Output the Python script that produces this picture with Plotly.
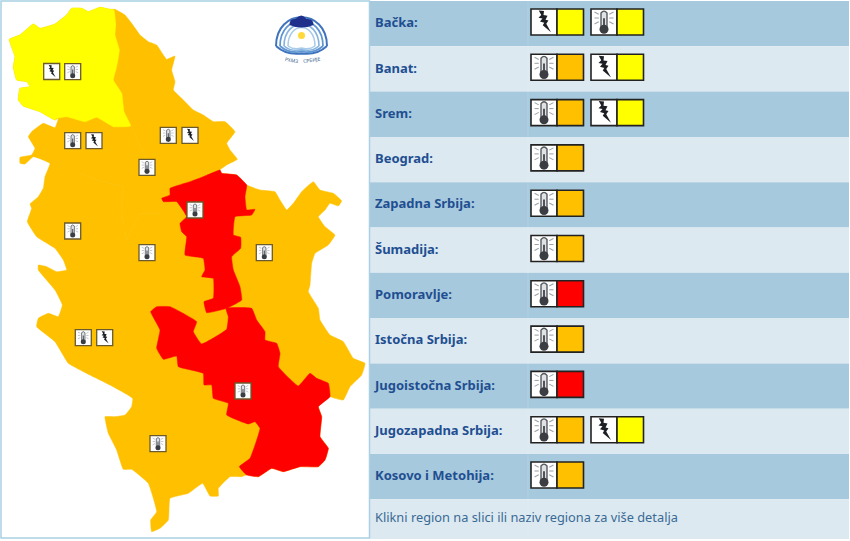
import plotly.graph_objects as go

# table on the right
regions = ["Bačka:", "Banat:", "Srem:", "Beograd:", "Zapadna Srbija:", "Šumadija:", "Pomoravlje:",
           "Istočna Srbija:", "Jugoistočna Srbija:", "Jugozapadna Srbija:", "Kosovo i Metohija:"]
first_icon = ["bolt", "temp", "temp", "temp", "temp", "temp", "temp", "temp", "temp", "temp", "temp"]
first_level = ["yellow", "orange", "orange", "orange", "orange", "orange", "red", "orange", "red", "orange", "orange"]
second_icon = ["temp", "bolt", "bolt", None, None, None, None, None, None, "bolt", None]
second_level = ["yellow", "yellow", "yellow", None, None, None, None, None, None, "yellow", None]
footer = "Klikni region na slici ili naziv regiona za više detalja"

colors = {"yellow": "#ffff00", "orange": "#ffc000", "red": "#ff0000"}

# map outlines, traced at 3x off the picture (x, y)
serbia_outline = [(28,118),(60,105),(100,72),(120,85),(165,72),(200,45),(215,25),(245,25),(265,35),(300,22),(330,28),
    (345,28),(375,45),(395,70),(420,105),(445,125),(470,135),(490,165),(500,178),(525,168),(515,210),(525,245),(520,270),
    (545,295),(580,330),(610,345),(640,365),(675,365),(705,395),(680,430),(690,450),(712,478),(680,495),(660,510),
    (665,520),(710,525),(740,555),(780,570),(825,575),(840,600),(860,630),(880,610),(905,575),(940,545),(960,570),
    (1000,580),(1025,603),(1015,618),(990,610),(975,630),(955,650),(975,680),(1005,705),(985,735),(945,760),(935,790),
    (930,855),(925,875),(955,925),(960,960),(990,1005),(1030,1025),(1060,1075),(1095,1090),(1085,1125),(1050,1160),
    (1030,1200),(1005,1195),(990,1190),(955,1220),(965,1250),(960,1310),(985,1345),(975,1380),(955,1400),(900,1400),
    (850,1415),(815,1405),(775,1430),(740,1425),(725,1430),(690,1430),(655,1465),(655,1488),(630,1488),(608,1450),
    (565,1480),(510,1495),(505,1560),(480,1585),(455,1595),(452,1560),(470,1535),(445,1450),(395,1408),(370,1408),
    (350,1350),(325,1300),(315,1250),(345,1250),(375,1245),(395,1220),(398,1195),(330,1155),(250,1115),(205,1090),
    (165,1025),(110,980),(115,955),(145,940),(175,950),(187,915),(165,870),(115,810),(115,795),(140,800),(170,815),
    (200,810),(190,780),(165,745),(110,710),(82,665),(95,625),(90,612),(115,590),(130,565),(135,530),(150,490),
    (100,470),(75,492),(60,490),(60,472),(95,465),(105,445),(85,410),(95,395),(130,370),(165,383),(175,355),(165,360),
    (120,335),(70,318),(55,300),(60,265),(90,260),(80,245),(50,240),(40,200),(45,170)]
backa_outline = [(28,118),(60,105),(100,72),(120,85),(165,72),(200,45),(215,25),(245,25),(265,35),(300,22),(330,28),
    (342,30),(347,75),(345,105),(358,150),(350,200),(340,240),(365,280),(372,335),(392,378),(340,380),(290,352),
    (255,365),(200,350),(170,355),(165,360),(120,335),(70,318),(55,300),(60,265),(90,260),(80,245),(50,240),(40,200),(45,170)]
pomoravlje_outline = [(660,510),(665,520),(710,525),(740,555),(735,590),(740,630),(765,628),(755,645),(705,650),
    (700,705),(722,712),(722,745),(695,770),(700,810),(720,860),(725,900),(680,925),(620,938),(612,905),(640,895),
    (640,835),(605,830),(615,810),(610,775),(555,765),(560,710),(545,695),(540,670),(560,650),(530,605),(490,605),
    (485,595),(510,585),(510,565),(570,545),(610,530)]
jugoistok_outline = [(678,925),(755,925),(770,960),(795,995),(795,1020),(830,1030),(840,1060),(835,1100),(895,1158),
    (930,1120),(950,1135),(985,1150),(990,1190),(955,1220),(965,1250),(960,1310),(985,1345),(975,1380),(955,1400),
    (900,1400),(850,1415),(815,1405),(775,1430),(740,1425),(718,1400),(750,1375),(780,1285),(765,1265),(745,1272),
    (680,1245),(685,1210),(640,1195),(635,1155),(612,1155),(610,1120),(535,1100),(530,1068),(490,1078),(470,1045),
    (480,990),(452,935),(470,920),(510,920),(590,965),(580,995),(605,1032),(680,988),(685,950)]
# faint borders between the orange regions
seam_a = [(392,378),(405,400),(420,440),(440,478)]
seam_b = [(240,520),(290,540),(370,560),(365,640),(380,720),(420,640),(480,640)]

# warning icons on the map: centre x, centre y, kind
map_icons = [(51.7,71.5,"bolt"),(72.7,71.7,"temp"),(72.7,140.7,"temp"),(94,140.7,"bolt"),(168.3,135.3,"temp"),
    (190,135.3,"bolt"),(147,167.3,"temp"),(195,210,"temp"),(72.7,231,"temp"),(147,252.7,"temp"),(264.3,252.7,"temp"),
    (83.3,337.7,"temp"),(104.7,337.7,"bolt"),(243,391,"temp"),(158,443.7,"temp")]

fig = go.Figure()
shapes = []


def rect(x0, y0, x1, y1, fill, line=None, width=0, layer="above"):
    shapes.append(dict(type="rect", x0=x0, y0=y0, x1=x1, y1=y1, fillcolor=fill, layer=layer,
                       line=dict(color=line or fill, width=width)))


def path(d, fill=None, line=None, width=1):
    shapes.append(dict(type="path", path=d, fillcolor=fill or "rgba(0,0,0,0)", layer="above",
                       line=dict(color=line or "rgba(0,0,0,0)", width=width)))


def draw_bolt(cx, cy, r):
    pts = [(-0.42,-0.92),(0.0,-0.88),(-0.04,-0.55),(0.28,-0.5),(0.12,-0.18),(0.36,-0.12),(0.18,0.14),(0.56,0.82),
           (-0.1,0.26),(0.02,0.06),(-0.32,-0.04),(-0.12,-0.28),(-0.44,-0.34),(-0.22,-0.56)]
    d = "M " + " L ".join(f"{cx + x * r:.2f} {cy + y * r:.2f}" for x, y in pts) + " Z"
    path(d, fill="#1c1f24")


def draw_temp(cx, cy, r):
    # tube
    path(f"M {cx - .24*r} {cy + .4*r} L {cx - .24*r} {cy - .72*r} Q {cx} {cy - 1.02*r} {cx + .24*r} {cy - .72*r} "
         f"L {cx + .24*r} {cy + .4*r} Z", fill="#dfe3e6", line="#55585c", width=max(r / 9, 0.7))
    path(f"M {cx - .08*r} {cy + .4*r} L {cx - .08*r} {cy - .3*r} L {cx + .08*r} {cy - .3*r} L {cx + .08*r} {cy + .4*r} Z",
         fill="#50545a")
    # bulb
    br = .36 * r
    shapes.append(dict(type="circle", x0=cx - br, x1=cx + br, y0=cy + .58*r - br, y1=cy + .58*r + br,
                       fillcolor="#3a3d42", line=dict(width=0), layer="above"))
    # little rays either side
    for dy, a in [(-.62, .18), (-.32, 0), (-.02, -.18)]:
        for side in (-1, 1):
            path(f"M {cx + side*.42*r} {cy + dy*r} L {cx + side*.76*r} {cy + (dy - a)*r}", line="#9aa3aa",
                 width=max(r / 12, 0.6))


draw_icon = {"bolt": draw_bolt, "temp": draw_temp}

# map, orange silhouette first then the other levels on top
for name, outline, level in [("Srbija", serbia_outline, "orange"), ("Bačka", backa_outline, "yellow"),
                             ("Pomoravlje", pomoravlje_outline, "red"), ("Jugoistočna Srbija", jugoistok_outline, "red")]:
    fig.add_trace(go.Scatter(x=[p[0] / 3 for p in outline] + [outline[0][0] / 3],
                             y=[p[1] / 3 for p in outline] + [outline[0][1] / 3],
                             mode="lines", fill="toself", fillcolor=colors[level], name=name,
                             line=dict(color=colors[level], width=0.5, shape="spline", smoothing=0.3),
                             hoverinfo="name", showlegend=False))
for seam in (seam_a, seam_b):
    fig.add_trace(go.Scatter(x=[p[0] / 3 for p in seam], y=[p[1] / 3 for p in seam], mode="lines",
                             line=dict(color="#ffc30f", width=1), hoverinfo="skip", showlegend=False))

for cx, cy, kind in map_icons:
    rect(cx - 8, cy - 8, cx + 8, cy + 8, "#ffffff", "#6b5a2c", 1.3)
    draw_icon[kind](cx, cy, 7)

# frame round the map panel
shapes.append(dict(type="rect", x0=1, y0=1, x1=369.5, y1=538, fillcolor="rgba(0,0,0,0)",
                   line=dict(color="#a9d0e3", width=1.5), layer="above"))

# logo
lx, ly = 301.5, 37
for r, col, w in [(25.5, "#3f74bd", 2), (21.5, "#5f96d2", 1.8), (17.5, "#86b3e0", 1.6), (13.5, "#a8cbea", 1.5)]:
    path(f"M {lx - r} {ly + 9} C {lx - r} {ly - r*1.15} {lx + r} {ly - r*1.15} {lx + r} {ly + 9}", line=col, width=w)
    path(f"M {lx - r} {ly + 9} Q {lx - r*.6} {ly + 7 + r*.45} {lx} {ly + 5 + r*.45} Q {lx + r*.6} {ly + 7 + r*.45} {lx + r} {ly + 9}",
         line=col, width=w)
path(f"M {lx - 12} {ly - 12} Q {lx - 12} {ly - 19} {lx - 6} {ly - 18} Q {lx} {ly - 25} {lx + 5} {ly - 18} "
     f"Q {lx + 12} {ly - 19} {lx + 12} {ly - 12} Q {lx} {ly - 7} {lx - 12} {ly - 12} Z", fill="#1f2f8c")
shapes.append(dict(type="circle", x0=lx - 3.5, x1=lx + 3.5, y0=ly - 5, y1=ly + 2, fillcolor="#ffd83a",
                   line=dict(width=0), layer="above"))

annotations = [
    dict(x=291, y=59.5, text="РХМЗ", textangle=10, font=dict(size=5, color="#3b5f8a", family="Noto Sans"), showarrow=False),
    dict(x=311, y=59.5, text="СРБИЈЕ", textangle=-8, font=dict(size=5, color="#3b5f8a", family="Noto Sans"), showarrow=False),
]

# table rows
row_h = 45.3
for i, name in enumerate(regions):
    y0 = 1 + i * row_h
    rect(370, y0, 849, y0 + row_h, "#a7c9dd" if i % 2 == 0 else "#dce9f1", layer="below")
    for x0, icon, level in [(531, first_icon[i], first_level[i]), (591, second_icon[i], second_level[i])]:
        if icon is None:
            continue
        top = y0 + 8
        rect(x0, top, x0 + 26, top + 26, "#ffffff", "#222222", 1.6)
        rect(x0 + 26, top, x0 + 52.5, top + 26, colors[level], "#222222", 1.6)
        draw_icon[icon](x0 + 13, top + 13, 12.5)

y0 = 1 + len(regions) * row_h
rect(370, y0, 849, 539, "#dce9f1", layer="below")

# seam between the two table columns
shapes.append(dict(type="line", x0=528, x1=528, y0=1, y1=539, layer="below",
                   line=dict(color="rgba(255,255,255,0.12)", width=1)))

# labels
fig.add_trace(go.Scatter(x=[375] * len(regions), y=[1.3 + (i + 0.5) * row_h for i in range(len(regions))],
                         mode="text", text=[f"<b>{n}</b>" for n in regions], textposition="middle right",
                         textfont=dict(size=13, color="#1f4f91", family="Noto Sans"),
                         hoverinfo="skip", showlegend=False))
fig.add_trace(go.Scatter(x=[375], y=[(y0 + 539) / 2], mode="text", text=[footer], textposition="middle right",
                         textfont=dict(size=12.8, color="#3a6a94", family="Noto Sans"),
                         hoverinfo="skip", showlegend=False))

fig.update_layout(
    width=850, height=541, margin=dict(l=0, r=0, t=0, b=0),
    paper_bgcolor="white", plot_bgcolor="white", showlegend=False,
    xaxis=dict(range=[0, 850], visible=False, fixedrange=True),
    yaxis=dict(range=[541, 0], visible=False, fixedrange=True),
    shapes=shapes, annotations=annotations,
)

fig.write_html("out.html", config=dict(displayModeBar=False),
               post_script="document.body.style.margin='0';document.body.style.overflow='hidden';")
